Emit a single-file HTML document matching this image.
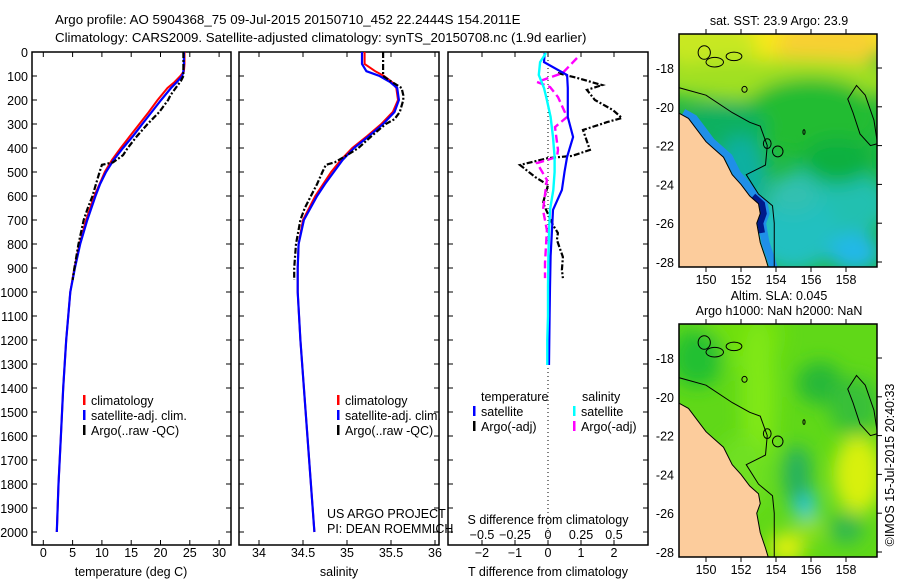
<!DOCTYPE html>
<html><head><meta charset="utf-8"><style>
html,body{margin:0;padding:0;background:#fff;}
svg{display:block;font-family:"Liberation Sans",sans-serif;}
text{font-size:12.5px;fill:#000;}
</style></head><body>
<svg id="fig" width="900" height="580" viewBox="0 0 900 580">
<defs>
<filter id="blur8" x="-50%" y="-50%" width="200%" height="200%"><feGaussianBlur stdDeviation="9"/></filter>
<clipPath id="clip1"><rect x="679" y="34" width="198" height="233"/></clipPath>
<clipPath id="clip2"><rect x="679" y="324" width="198" height="233"/></clipPath>
</defs>
<text x="55" y="24" style="font-size:13.3px">Argo profile: AO 5904368_75 09-Jul-2015 20150710_452 22.2444S 154.2011E</text>
<text x="55" y="42" style="font-size:13.3px">Climatology: CARS2009. Satellite-adjusted climatology: synTS_20150708.nc (1.9d earlier)</text>
<g id="g1"></g>
<g id="g2"></g>
<g id="g3"></g>
<g id="m1"></g>
<g id="m2"></g>
<text x="327" y="518">US ARGO PROJECT</text>
<text x="327" y="533">PI: DEAN ROEMMICH</text>
<text x="779" y="25" text-anchor="middle">sat. SST: 23.9 Argo: 23.9</text>
<text x="779" y="300" text-anchor="middle">Altim. SLA: 0.045</text>
<text x="779" y="315" text-anchor="middle">Argo h1000: NaN h2000: NaN</text>
<text transform="translate(894,465) rotate(-90)" text-anchor="middle">©IMOS 15-Jul-2015 20:40:33</text>
</svg>
<script>
// ---- data ----
const depthClim=[0,50,80,100,125,150,200,250,300,350,400,450,500,550,600,700,800,900,1000,1200,1400,1600,1800,2000];
const tempClim=[24.1,24.1,24.0,23.4,22.4,21.2,19.5,18.0,16.4,14.8,13.2,11.7,10.5,9.6,8.7,7.3,6.2,5.3,4.6,3.9,3.4,3.0,2.6,2.3];
const tempSat=[24.0,24.0,23.9,23.7,22.8,21.8,20.1,18.5,16.9,15.3,13.6,12.0,10.7,9.7,8.9,7.5,6.3,5.4,4.6,3.9,3.4,3.0,2.6,2.3];
const salClim=[35.20,35.20,35.32,35.42,35.51,35.56,35.58,35.52,35.39,35.23,35.06,34.93,34.82,34.73,34.64,34.50,34.45,34.44,34.44,34.47,34.51,34.55,34.59,34.63];
const salSat=[35.17,35.17,35.22,35.37,35.49,35.57,35.59,35.54,35.41,35.25,35.08,34.95,34.85,34.75,34.66,34.51,34.45,34.44,34.44,34.47,34.51,34.55,34.59,34.63];
const depthArgo=[0,20,100,120,150,180,200,250,280,300,350,400,430,460,470,500,550,600,650,700,800,900,950];
const tempArgo=[23.9,23.9,23.9,23.5,22.6,21.7,21.3,19.8,18.6,17.8,16.0,14.4,13.6,11.9,10.0,9.6,9.0,8.4,7.6,6.9,6.0,5.3,5.0];
const salArgo=[35.41,35.41,35.41,35.49,35.62,35.64,35.64,35.6,35.54,35.44,35.28,35.13,35.0,34.86,34.76,34.72,34.66,34.59,34.52,34.47,34.42,34.40,34.40];
const depthDiff=[4,42,96,150,200,271,354,437,500,575,658,742,850,980,1100,1200,1304];
const tDiffSat=[-0.1,-0.12,0.58,0.6,0.6,0.6,0.76,0.58,0.5,0.42,0.15,0.12,0.08,0.06,0.05,0.04,0.03];
const sDiffSat=[-0.015,-0.06,-0.07,-0.03,-0.008,0.02,0.038,0.05,0.05,0.04,0.015,0.008,0.003,0,0,-0.005,-0.005];
const depthArgoT=[88,108,138,158,200,242,275,292,325,408,433,442,471,521,554,629,721,754,783,854,908,942];
const tDiffArgo=[0.3,0.88,1.64,1.18,1.42,1.97,2.24,1.79,1.06,1.27,0.73,0,-0.85,-0.39,0,-0.15,0.15,0.3,0.27,0.45,0.42,0.45];
const depthArgoS=[25,88,125,146,188,271,313,408,437,463,533,658,742,879,942];
const sDiffArgo=[0.22,0.11,-0.083,0.015,0.076,0.144,0.053,0.076,0.068,-0.083,-0.008,-0.038,-0.008,-0.023,-0.023];
const depthTicks=[0,100,200,300,400,500,600,700,800,900,1000,1100,1200,1300,1400,1500,1600,1700,1800,1900,2000];
const tempTicks=[0,5,10,15,20,25,30];
const salTicks=[34,34.5,35,35.5,36];
const tDiffTicks=[-2,-1,0,1,2];
const sDiffTicks=[-0.5,-0.25,0,0.25,0.5];
const sDiffTickLabels=["-0.5","-0.25","0","0.25","0.5"];
const lonTicks=[150,152,154,156,158];
const latTicks=[18,20,22,24,26,28];
// ---- scales ----
const yD=d=>52+d*0.24;
const xT=t=>43.3+t*5.86;
const xS=s=>259+(s-34)*88;
const xTD=d=>548+d*33;
const xSD=d=>548+d*132;
const MINUS='\u2212';
const NS="http://www.w3.org/2000/svg";
function mk(parent,tag,attrs){const e=document.createElementNS(NS,tag);for(const k in attrs)e.setAttribute(k,attrs[k]);parent.appendChild(e);return e;}
function line(g,xs,ys,xf,color,w,dash,name){
  const d=xs.map((v,i)=>(i?'L':'M')+xf(v).toFixed(1)+','+yD(ys[i]).toFixed(1)).join('');
  const p=mk(g,'path',{d:d,fill:'none',stroke:color,'stroke-width':w});
  if(dash)p.setAttribute('stroke-dasharray',dash);
  
  
  return p;
}
function frame(g,x0,x1,name){
  const r=mk(g,'rect',{x:x0,y:52,width:x1-x0,height:493,fill:'none',stroke:'#000','stroke-width':1.5});
  
  
  depthTicks.forEach(d=>{mk(g,'line',{x1:x0,x2:x0+5,y1:yD(d),y2:yD(d),stroke:'#000'});mk(g,'line',{x1:x1-5,x2:x1,y1:yD(d),y2:yD(d),stroke:'#000'});});
}
function xticks(g,vals,xf,ly){
  vals.forEach((v,i)=>{const x=xf(v);
    mk(g,'line',{x1:x,x2:x,y1:52,y2:57,stroke:'#000'});mk(g,'line',{x1:x,x2:x,y1:540,y2:545,stroke:'#000'});
    const t=mk(g,'text',{x:x,y:ly,'text-anchor':'middle'});t.textContent=String(v).replace('-',MINUS);
    
    });
}
function legend(g,x,y,items){
  items.forEach((it,i)=>{mk(g,'rect',{x:x,y:y+i*15-10,width:2.5,height:10,fill:it[0]});
    const t=mk(g,'text',{x:x+8,y:y+i*15});t.textContent=it[1];
    
    });
}
// panel 1
const g1=document.getElementById('g1');
frame(g1,32,231,'temperature-plot-frame');
depthTicks.forEach(d=>{const t=mk(g1,'text',{x:28,y:yD(d)+5,'text-anchor':'end'});t.textContent=d;
  
  });
xticks(g1,tempTicks,xT,557);
const t1=mk(g1,'text',{x:131,y:576,'text-anchor':'middle'});t1.textContent='temperature (deg C)';


line(g1,tempClim,depthClim,xT,'#f00',2,null,'temp-climatology-line');
line(g1,tempSat,depthClim,xT,'#00f',2.2,null,'temp-satellite-line');
line(g1,tempArgo,depthArgo,xT,'#000',2.2,'6,2,2,2','temp-argo-line');
legend(g1,83,405,[['#f00','climatology'],['#00f','satellite-adj. clim.'],['#000','Argo(..raw -QC)']]);
// panel 2
const g2=document.getElementById('g2');
frame(g2,239,439,'salinity-plot-frame');
xticks(g2,salTicks,xS,557);
const t2=mk(g2,'text',{x:339,y:576,'text-anchor':'middle'});t2.textContent='salinity';


line(g2,salClim,depthClim,xS,'#f00',2,null,'sal-climatology-line');
line(g2,salSat,depthClim,xS,'#00f',2.2,null,'sal-satellite-line');
line(g2,salArgo,depthArgo,xS,'#000',2.2,'6,2,2,2','sal-argo-line');
legend(g2,337,405,[['#f00','climatology'],['#00f','satellite-adj. clim.'],['#000','Argo(..raw -QC)']]);
// panel 3
const g3=document.getElementById('g3');
frame(g3,448,648,'difference-plot-frame');
mk(g3,'line',{x1:548,x2:548,y1:52,y2:545,stroke:'#000','stroke-dasharray':'1,3'});
xticks(g3,tDiffTicks,xTD,557);
sDiffTicks.forEach((v,i)=>{const t=mk(g3,'text',{x:xSD(v),y:539,'text-anchor':'middle'});t.textContent=sDiffTickLabels[i].replace('-',MINUS);
  
  });
const t3=mk(g3,'text',{x:548,y:576,'text-anchor':'middle'});t3.textContent='T difference from climatology';


const t4=mk(g3,'text',{x:548,y:524,'text-anchor':'middle'});t4.textContent='S difference from climatology';


line(g3,tDiffArgo,depthArgoT,xTD,'#000',2.2,'6,2,2,2','tdiff-argo-line');
line(g3,sDiffArgo,depthArgoS,xSD,'#f0f',2.4,'8,4','sdiff-argo-line');
line(g3,tDiffSat,depthDiff,xTD,'#00f',2.2,null,'tdiff-satellite-line');
line(g3,sDiffSat,depthDiff,xSD,'#0ff',2.4,null,'sdiff-satellite-line');
const lt=mk(g3,'text',{x:481,y:401});lt.textContent='temperature';


const ls=mk(g3,'text',{x:582,y:401});ls.textContent='salinity';


legend(g3,473,416,[['#00f','satellite'],['#000','Argo(-adj)']]);
legend(g3,573,416,[['#0ff','satellite'],['#f0f','Argo(-adj)']]);
// ---- maps ----
const lonX=l=>706+(l-150)*17.5;
const latY=(la,off)=>68+off+(la-18)*19.4;
const coast=[[148.4,20.3],[149.0,20.6],[149.5,21.2],[150.0,21.8],[150.5,22.2],[151.0,22.6],[151.5,23.5],[152.0,24.0],[152.5,24.6],[153.0,25.0],[153.1,25.5],[152.9,26.0],[153.0,26.5],[153.1,27.0],[153.4,27.8],[153.6,28.4]];
const iso=[[148.4,19.0],[150,19.4],[151.5,20.3],[152.5,20.8],[153.1,21.0],[153.5,22.0],[153.4,23.0],[152.3,23.5],[153.0,24.5],[153.8,25.1],[153.9,26.0],[153.9,28.4]];
const reef=[[158.1,19.6],[158.6,18.9],[159.1,19.4],[159.6,20.7],[159.8,21.9],[159.4,22.0],[158.8,21.4],[158.4,20.3]];
function drawMap(id,off,clip,blobs,base){
  const g=document.getElementById(id);
  const c=mk(g,'g',{'clip-path':'url(#'+clip+')'});
  mk(c,'rect',{x:679,y:34+off,width:198,height:233,fill:base});
  const bg=mk(c,'g',{filter:'url(#blur8)'});
  blobs.forEach(b=>mk(bg,'ellipse',{cx:lonX(b[0]),cy:latY(b[1],off),rx:b[2]*17.5,ry:b[3]*19.4,fill:b[4]}));
  if(off===0){mk(c,'path',{d:'M'+coast.map(p=>lonX(p[0]+0.3)+','+latY(p[1],off)).join('L'),fill:'none',stroke:'#1f8fe8','stroke-width':8});
    mk(c,'path',{d:'M'+coast.slice(8,13).map(p=>lonX(p[0]+0.2)+','+latY(p[1],off)).join('L'),fill:'none',stroke:'#001a8a','stroke-width':6});}
  const land=mk(c,'path',{d:'M'+coast.map(p=>lonX(p[0])+','+latY(p[1],off)).join('L')+'L'+lonX(148)+','+latY(29,off)+'L'+lonX(148)+','+latY(20,off)+'Z',fill:'#fccc9c',stroke:'#000','stroke-width':1});
  
  
  mk(c,'path',{d:'M'+iso.map(p=>lonX(p[0])+','+latY(p[1],off)).join('L'),fill:'none',stroke:'#000','stroke-width':1});
  mk(c,'path',{d:'M'+reef.map(p=>lonX(p[0])+','+latY(p[1],off)).join('L')+'Z',fill:'none',stroke:'#000','stroke-width':1});
  [[149.9,17.2,0.35,0.35],[150.5,17.7,0.5,0.25],[151.6,17.4,0.45,0.22],[154.1,22.3,0.3,0.28],[153.5,21.9,0.22,0.25],[152.2,19.1,0.15,0.15],[155.6,21.3,0.06,0.12]].forEach(e=>mk(c,'ellipse',{cx:lonX(e[0]),cy:latY(e[1],off),rx:e[2]*17.5,ry:e[3]*19.4,fill:'none',stroke:'#000'}));
  const fr=mk(g,'rect',{x:679,y:34+off,width:198,height:233,fill:'none',stroke:'#000','stroke-width':1.5});
  
  
  lonTicks.forEach(l=>{const x=lonX(l);mk(g,'line',{x1:x,x2:x,y1:34+off,y2:29+off,stroke:'#000'});mk(g,'line',{x1:x,x2:x,y1:267+off,y2:272+off,stroke:'#000'});
    const t=mk(g,'text',{x:x,y:284+off,'text-anchor':'middle'});t.textContent=l;
    
    });
  latTicks.forEach(la=>{const y=latY(la,off);mk(g,'line',{x1:877,x2:882,y1:y,y2:y,stroke:'#000'});
    const t=mk(g,'text',{x:674,y:y+5,'text-anchor':'end'});t.textContent='-'+la;
    
    });
}
drawMap('m1',0,'clip1',[
 [154,16.0,9,1.8,'#f8e818'],[150,16.8,3,1.3,'#c8e820'],[157,16.8,3,1.4,'#f8d030'],[154,18.6,8,1.1,'#a0e020'],
 [156,20.5,4,2,'#20bc30'],[151,21,2.5,1.2,'#10b060'],[152,23.5,1.5,2,'#10b0a0'],[157,25,3.5,2,'#20c0b0'],
 [155,26.5,2.5,2,'#20c0c0'],[158.5,27.5,1.5,1,'#20b8e8'],[155,24.5,1.5,1,'#30c0b0'],[157.5,22.8,2,1.2,'#10b040']],'#20b840');
drawMap('m2',290,'clip2',[
 [152,16.8,2.5,1.8,'#70e010'],[149.5,18,1.5,1.5,'#20c030'],[153,20,1,4,'#80e818'],[156.5,19.3,1.3,1.1,'#28b838'],
 [158.5,20.5,1.5,1.5,'#38c038'],[158.7,24,1.4,2,'#d8f010'],[155.6,25.5,0.7,0.7,'#28c8f0'],[155.2,24,0.8,1.5,'#28b060'],
 [154.6,27.8,1,0.8,'#e0f010'],[158,26.8,1,0.8,'#30b850'],[156,26.8,0.8,0.6,'#90e020'],[152,24,1.5,2,'#70e020']],'#60d818');
</script>
</body></html>
